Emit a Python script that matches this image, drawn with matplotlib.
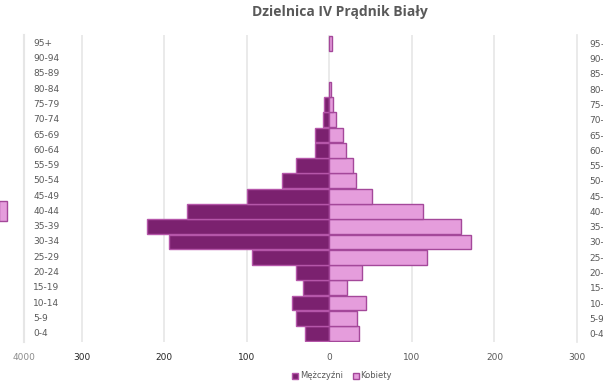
import matplotlib.pyplot as plt

ages = ['0-4', '5-9', '10-14', '15-19', '20-24', '25-29', '30-34', '35-39', '40-44', '45-49',
        '50-54', '55-59', '60-64', '65-69', '70-74', '75-79', '80-84', '85-89', '90-94', '95+']
men = [29, 41, 45, 32, 40, 94, 194, 221, 173, 100, 58, 41, 18, 18, 8, 6, 0, 0, 0, 0]
women = [36, 34, 44, 21, 39, 118, 171, 159, 113, 52, 32, 29, 20, 17, 8, 4, 2, 0, 0, 3]
ticks = [-370, -300, -200, -100, 0, 100, 200, 300]
tick_labels = ['4000', '300', '200', '100', '0', '100', '200', '300']
tick_colors = ['#8c8c8c', '#262626', '#262626', '#262626', '#595959', '#595959', '#595959', '#595959']

men_fill, men_edge = '#7b216f', '#b556a9'
women_fill, women_edge = '#e59ddc', '#a4489a'

fig = plt.figure(figsize=(6.03, 3.87), dpi=100)
ax = fig.add_axes([24 / 603, 1 - 342 / 387, 553 / 603, 307 / 387])

y = list(range(len(ages)))
ax.barh(y, [-m for m in men], height=0.97, color=men_fill, edgecolor=men_edge,
        linewidth=[1 if m else 0 for m in men], zorder=3)
ax.barh(y, women, height=0.97, color=women_fill, edgecolor=women_edge,
        linewidth=[1 if w else 0 for w in women], zorder=3)
# stray pink stub sticking out at the left edge (40-44 row)
ax.barh([ages.index('40-44')], [9], left=-400, height=1.3, color=women_fill,
        edgecolor=women_edge, linewidth=1, clip_on=False, zorder=3)

ax.set_xlim(-370, 300)
ax.set_ylim(-0.55, len(ages) - 0.45)
for gx in [-300, -200, -100, 0, 100, 200]:
    ax.axvline(gx, color='#e6e6e6', linewidth=1.2, zorder=1)
for s in ['top', 'bottom']:
    ax.spines[s].set_visible(False)
ax.spines['left'].set_color('#e6e6e6')
ax.spines['left'].set_linewidth(1.5)
ax.spines['right'].set_color('#e6e6e6')
ax.spines['right'].set_linewidth(1.2)

ax.set_xticks(ticks)
ax.set_xticklabels(tick_labels, fontsize=6.5)
for lbl, c in zip(ax.get_xticklabels(), tick_colors):
    lbl.set_color(c)
ax.tick_params(axis='x', length=0, pad=8)

ax.set_yticks(y)
ax.set_yticklabels(ages, fontsize=6.5, color='#595959')
ax.tick_params(axis='y', length=0, left=False, labelleft=False, labelright=True, pad=9)
for i, a in enumerate(ages):
    ax.text(-359, i, a, fontsize=6.5, color='#595959', ha='left', va='center')

fig.text(340 / 603, 1 - 12 / 387, 'Dzielnica IV Prądnik Biały', ha='center', va='center',
         fontsize=10, fontweight='bold', color='#595959', family='Open Sans')

h1 = plt.Rectangle((0, 0), 1, 1, facecolor=men_fill, edgecolor=men_edge)
h2 = plt.Rectangle((0, 0), 1, 1, facecolor=women_fill, edgecolor=women_edge)
fig.legend([h1, h2], ['Mężczyźni', 'Kobiety'], loc='center', bbox_to_anchor=(342 / 603, 1 - 376 / 387),
           ncol=2, frameon=False, fontsize=6, handlelength=0.7, handleheight=0.7,
           handletextpad=0.2, columnspacing=1.2, labelcolor='#595959')

plt.savefig('out.png', dpi=100)
